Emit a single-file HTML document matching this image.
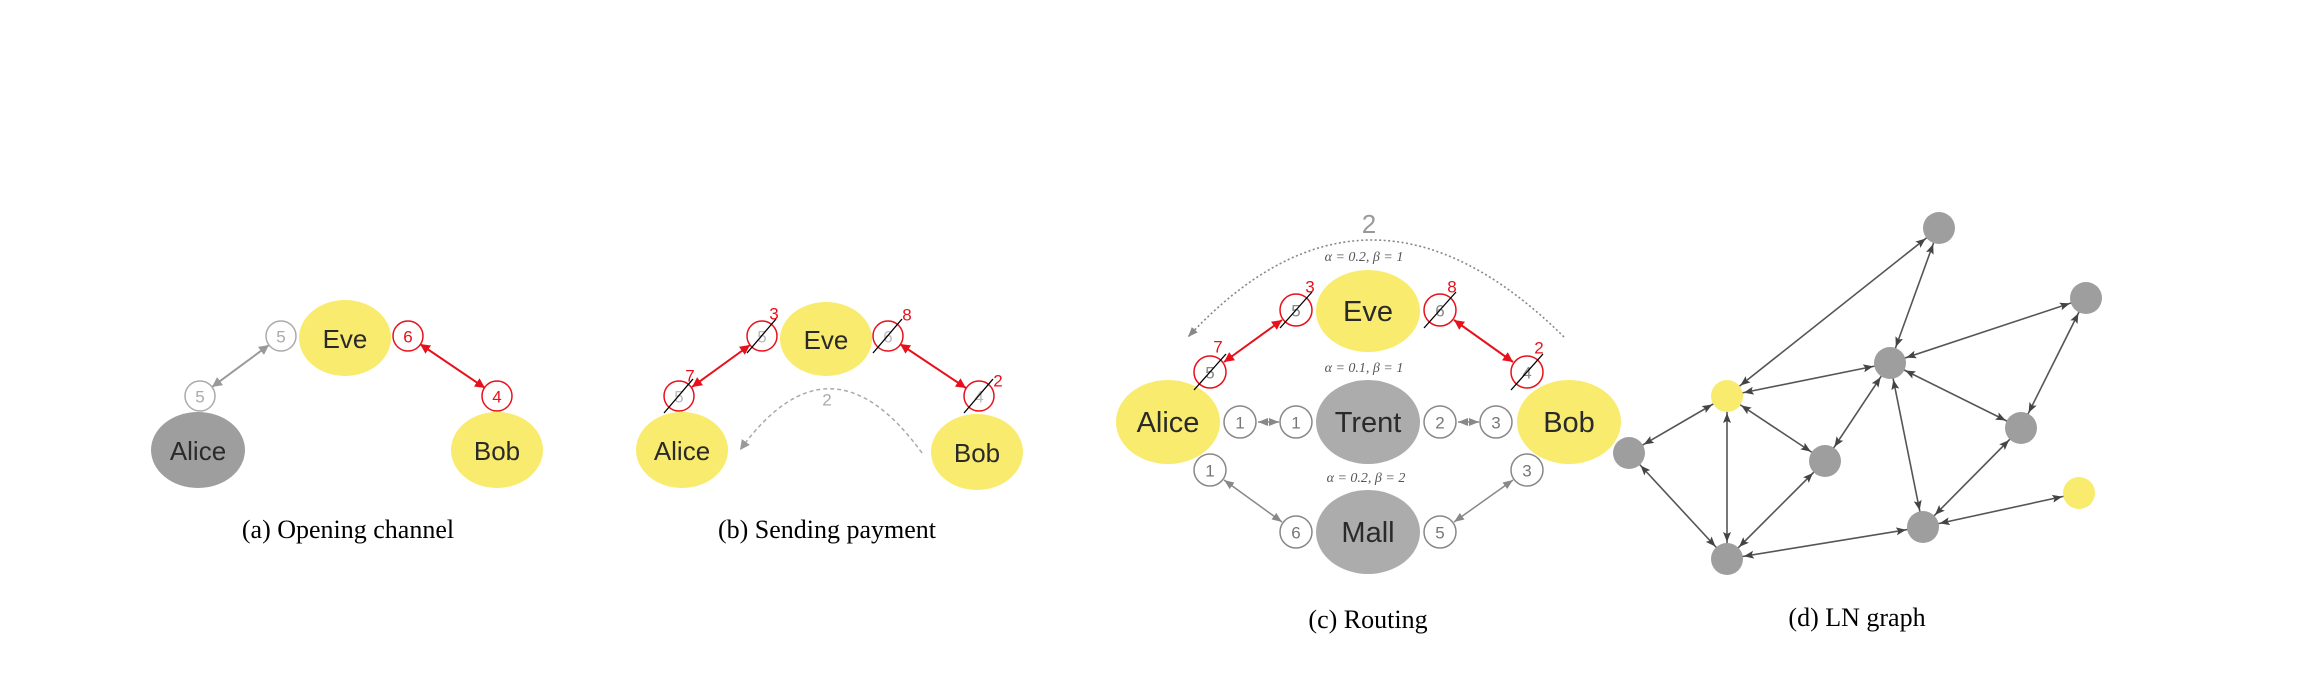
<!DOCTYPE html>
<html><head><meta charset="utf-8"><style>
html,body{margin:0;padding:0;background:#fff;}
svg{display:block;}
.n{font-family:"Liberation Sans",sans-serif;fill:#2a2a2a;text-anchor:middle;dominant-baseline:central;}
.s{font-family:"Liberation Sans",sans-serif;font-size:17px;text-anchor:middle;dominant-baseline:central;}
.cap{font-family:"Liberation Serif",serif;font-size:26px;fill:#000;text-anchor:middle;}
.al{font-family:"Liberation Serif",serif;font-size:14px;fill:#555;text-anchor:middle;font-style:italic;}
</style></head><body>
<svg width="2300" height="674" viewBox="0 0 2300 674" xmlns="http://www.w3.org/2000/svg">
<defs>
<marker id="ar" markerUnits="userSpaceOnUse" markerWidth="12" markerHeight="10" refX="10" refY="5" orient="auto-start-reverse"><path d="M0,0 L10,5 L0,10 z" fill="#e8101a"/></marker>
<marker id="ag" markerUnits="userSpaceOnUse" markerWidth="12" markerHeight="10" refX="10" refY="5" orient="auto-start-reverse"><path d="M0,0 L10,5 L0,10 z" fill="#999"/></marker>
<marker id="ag2" markerUnits="userSpaceOnUse" markerWidth="12" markerHeight="10" refX="10" refY="5" orient="auto-start-reverse"><path d="M0,1 L10,5 L0,9 z" fill="#888"/></marker>
<marker id="ad" markerUnits="userSpaceOnUse" markerWidth="30" markerHeight="10" refX="27" refY="5" orient="auto-start-reverse"><path d="M0,1 L10,5 L0,9 L2,5 z" fill="#444"/></marker>
</defs>

<!-- (a) -->
<ellipse cx="198" cy="450" rx="47" ry="38" fill="#9e9e9e"/>
<text class="n" x="198" y="451" font-size="26">Alice</text>
<ellipse cx="345" cy="338" rx="46" ry="38" fill="#f9eb6e"/>
<text class="n" x="345" y="339" font-size="26">Eve</text>
<ellipse cx="497" cy="450" rx="46" ry="38" fill="#f9eb6e"/>
<text class="n" x="497" y="451" font-size="26">Bob</text>
<line x1="212" y1="387" x2="269" y2="345" stroke="#999" stroke-width="2" marker-start="url(#ag)" marker-end="url(#ag)"/>
<line x1="420" y1="344" x2="485" y2="388" stroke="#e8101a" stroke-width="2" marker-start="url(#ar)" marker-end="url(#ar)"/>
<circle cx="281" cy="336" r="15" fill="#fff" stroke="#aaa" stroke-width="1.5"/><text class="s" x="281" y="337" fill="#aaa">5</text>
<circle cx="200" cy="396" r="15" fill="#fff" stroke="#aaa" stroke-width="1.5"/><text class="s" x="200" y="397" fill="#aaa">5</text>
<circle cx="408" cy="336" r="15" fill="#fff" stroke="#e8101a" stroke-width="1.5"/><text class="s" x="408" y="337" fill="#e8101a">6</text>
<circle cx="497" cy="396" r="15" fill="#fff" stroke="#e8101a" stroke-width="1.5"/><text class="s" x="497" y="397" fill="#e8101a">4</text>
<text class="cap" x="348" y="538">(a) Opening channel</text>

<!-- (b) -->
<ellipse cx="682" cy="450" rx="46" ry="38" fill="#f9eb6e"/>
<text class="n" x="682" y="451" font-size="26">Alice</text>
<ellipse cx="826" cy="339" rx="46" ry="37" fill="#f9eb6e"/>
<text class="n" x="826" y="340" font-size="26">Eve</text>
<ellipse cx="977" cy="452" rx="46" ry="38" fill="#f9eb6e"/>
<text class="n" x="977" y="453" font-size="26">Bob</text>
<path d="M922 453 Q830 326 740 450" fill="none" stroke="#aaa" stroke-width="1.5" stroke-dasharray="4 3" marker-end="url(#ag)"/>
<text class="s" x="827" y="400" fill="#aaa" font-size="19">2</text>
<line x1="692" y1="387" x2="750" y2="345" stroke="#e8101a" stroke-width="2" marker-start="url(#ar)" marker-end="url(#ar)"/>
<line x1="900" y1="344" x2="966" y2="388" stroke="#e8101a" stroke-width="2" marker-start="url(#ar)" marker-end="url(#ar)"/>
<g>
<circle cx="762" cy="336" r="15" fill="#fff" stroke="#e8101a" stroke-width="1.5"/><text class="s" x="762" y="337" fill="#bbb">5</text><line x1="747" y1="353" x2="776" y2="319" stroke="#000" stroke-width="1.3"/>
<circle cx="888" cy="336" r="15" fill="#fff" stroke="#e8101a" stroke-width="1.5"/><text class="s" x="888" y="337" fill="#bbb">6</text><line x1="873" y1="353" x2="902" y2="319" stroke="#000" stroke-width="1.3"/>
<circle cx="679" cy="396" r="15" fill="#fff" stroke="#e8101a" stroke-width="1.5"/><text class="s" x="679" y="397" fill="#bbb">5</text><line x1="664" y1="413" x2="693" y2="379" stroke="#000" stroke-width="1.3"/>
<circle cx="979" cy="396" r="15" fill="#fff" stroke="#e8101a" stroke-width="1.5"/><text class="s" x="979" y="397" fill="#bbb">4</text><line x1="964" y1="413" x2="993" y2="379" stroke="#000" stroke-width="1.3"/>
</g>
<text class="s" x="774" y="314" fill="#e8101a" font-size="18">3</text>
<text class="s" x="907" y="315" fill="#e8101a" font-size="18">8</text>
<text class="s" x="690" y="376" fill="#e8101a" font-size="18">7</text>
<text class="s" x="998" y="381" fill="#e8101a" font-size="18">2</text>
<text class="cap" x="827" y="538">(b) Sending payment</text>

<!-- (c) -->
<path d="M1564 337 Q1368 143 1188 337" fill="none" stroke="#888" stroke-width="1.6" stroke-dasharray="2 2.5" marker-end="url(#ag2)"/>
<text class="n" x="1369" y="224" font-size="26" style="fill:#999">2</text>
<text class="al" x="1364" y="261">α = 0.2, β = 1</text>
<text class="al" x="1364" y="372">α = 0.1, β = 1</text>
<text class="al" x="1366" y="482">α = 0.2, β = 2</text>
<ellipse cx="1168" cy="422" rx="52" ry="42" fill="#f9eb6e"/>
<text class="n" x="1168" y="423" font-size="29">Alice</text>
<ellipse cx="1368" cy="311" rx="52" ry="41" fill="#f9eb6e"/>
<text class="n" x="1368" y="312" font-size="29">Eve</text>
<ellipse cx="1368" cy="422" rx="52" ry="42" fill="#acacac"/>
<text class="n" x="1368" y="423" font-size="29">Trent</text>
<ellipse cx="1569" cy="422" rx="52" ry="42" fill="#f9eb6e"/>
<text class="n" x="1569" y="423" font-size="29">Bob</text>
<ellipse cx="1368" cy="532" rx="52" ry="42" fill="#acacac"/>
<text class="n" x="1368" y="533" font-size="29">Mall</text>
<line x1="1224" y1="362" x2="1282" y2="320" stroke="#e8101a" stroke-width="2" marker-start="url(#ar)" marker-end="url(#ar)"/>
<line x1="1454" y1="320" x2="1513" y2="362" stroke="#e8101a" stroke-width="2" marker-start="url(#ar)" marker-end="url(#ar)"/>
<line x1="1258" y1="422" x2="1279" y2="422" stroke="#888" stroke-width="1.5" marker-start="url(#ag2)" marker-end="url(#ag2)"/>
<line x1="1458" y1="422" x2="1479" y2="422" stroke="#888" stroke-width="1.5" marker-start="url(#ag2)" marker-end="url(#ag2)"/>
<line x1="1224" y1="480" x2="1282" y2="522" stroke="#888" stroke-width="1.5" marker-start="url(#ag2)" marker-end="url(#ag2)"/>
<line x1="1513" y1="480" x2="1454" y2="522" stroke="#888" stroke-width="1.5" marker-start="url(#ag2)" marker-end="url(#ag2)"/>
<g>
<circle cx="1210" cy="372" r="16" fill="#fff" stroke="#e8101a" stroke-width="1.5"/><text class="s" x="1210" y="373" fill="#888">5</text><line x1="1194" y1="390" x2="1226" y2="354" stroke="#000" stroke-width="1.3"/>
<circle cx="1296" cy="310" r="16" fill="#fff" stroke="#e8101a" stroke-width="1.5"/><text class="s" x="1296" y="311" fill="#888">5</text><line x1="1280" y1="328" x2="1312" y2="292" stroke="#000" stroke-width="1.3"/>
<circle cx="1440" cy="310" r="16" fill="#fff" stroke="#e8101a" stroke-width="1.5"/><text class="s" x="1440" y="311" fill="#888">6</text><line x1="1424" y1="328" x2="1456" y2="292" stroke="#000" stroke-width="1.3"/>
<circle cx="1527" cy="372" r="16" fill="#fff" stroke="#e8101a" stroke-width="1.5"/><text class="s" x="1527" y="373" fill="#888">4</text><line x1="1511" y1="390" x2="1543" y2="354" stroke="#000" stroke-width="1.3"/>
</g>
<text class="s" x="1310" y="287" fill="#e8101a" font-size="19">3</text>
<text class="s" x="1452" y="287" fill="#e8101a" font-size="19">8</text>
<text class="s" x="1218" y="347" fill="#e8101a" font-size="19">7</text>
<text class="s" x="1539" y="348" fill="#e8101a" font-size="19">2</text>
<g fill="#fff" stroke="#888" stroke-width="1.5">
<circle cx="1240" cy="422" r="16"/><circle cx="1296" cy="422" r="16"/><circle cx="1440" cy="422" r="16"/><circle cx="1496" cy="422" r="16"/>
<circle cx="1210" cy="470" r="16"/><circle cx="1296" cy="532" r="16"/><circle cx="1440" cy="532" r="16"/><circle cx="1527" cy="470" r="16"/>
</g>
<g fill="#777">
<text class="s" x="1240" y="423">1</text><text class="s" x="1296" y="423">1</text><text class="s" x="1440" y="423">2</text><text class="s" x="1496" y="423">3</text>
<text class="s" x="1210" y="471">1</text><text class="s" x="1296" y="533">6</text><text class="s" x="1440" y="533">5</text><text class="s" x="1527" y="471">3</text>
</g>
<text class="cap" x="1368" y="628">(c) Routing</text>

<!-- (d) -->
<g stroke="#555" stroke-width="1.6" marker-start="url(#ad)" marker-end="url(#ad)">
<line x1="1727" y1="396" x2="1939" y2="228"/>
<line x1="1939" y1="228" x2="1890" y2="363"/>
<line x1="2086" y1="298" x2="1890" y2="363"/>
<line x1="1727" y1="396" x2="1890" y2="363"/>
<line x1="1727" y1="396" x2="1629" y2="453"/>
<line x1="1727" y1="396" x2="1727" y2="559"/>
<line x1="1727" y1="396" x2="1825" y2="461"/>
<line x1="1890" y1="363" x2="1825" y2="461"/>
<line x1="1890" y1="363" x2="2021" y2="428"/>
<line x1="1890" y1="363" x2="1923" y2="527"/>
<line x1="2086" y1="298" x2="2021" y2="428"/>
<line x1="2021" y1="428" x2="1923" y2="527"/>
<line x1="1629" y1="453" x2="1727" y2="559"/>
<line x1="1825" y1="461" x2="1727" y2="559"/>
<line x1="1727" y1="559" x2="1923" y2="527"/>
<line x1="1923" y1="527" x2="2079" y2="493"/>
</g>
<g fill="#9e9e9e">
<circle cx="1939" cy="228" r="16"/><circle cx="2086" cy="298" r="16"/><circle cx="1890" cy="363" r="16"/>
<circle cx="1629" cy="453" r="16"/><circle cx="1825" cy="461" r="16"/><circle cx="2021" cy="428" r="16"/>
<circle cx="1923" cy="527" r="16"/><circle cx="1727" cy="559" r="16"/>
</g>
<circle cx="1727" cy="396" r="16" fill="#f9eb6e"/>
<circle cx="2079" cy="493" r="16" fill="#f9eb6e"/>
<text class="cap" x="1857" y="626">(d) LN graph</text>
</svg>
</body></html>
